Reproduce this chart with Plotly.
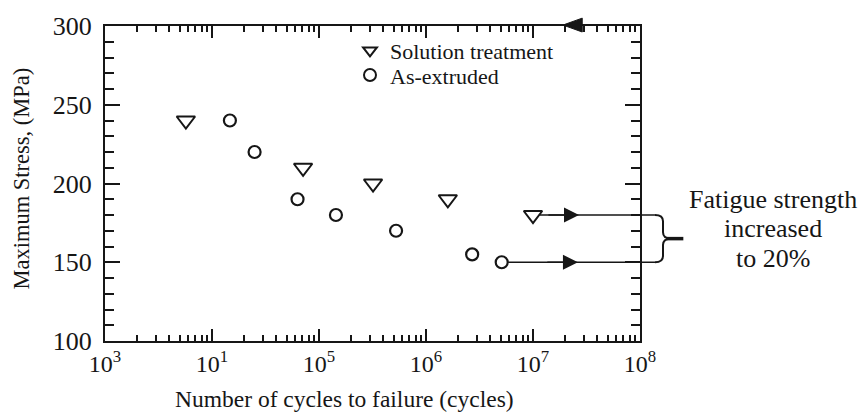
import numpy as np
import plotly.graph_objects as go

# ---- data ----
sol_cycles = [5.7e3, 7.1e4, 3.2e5, 1.6e6, 1.0e7]
sol_stress = [240, 210, 200, 190, 180]
ext_cycles = [1.47e4, 2.5e4, 6.3e4, 1.44e5, 5.25e5, 2.7e6, 5.1e6]
ext_stress = [240, 220, 190, 180, 170, 155, 150]

x_tickvals = [1e3, 1e4, 1e5, 1e6, 1e7, 1e8]
x_ticktext = ["10<sup>3</sup>", "10<sup>1</sup>", "10<sup>5</sup>",
              "10<sup>6</sup>", "10<sup>7</sup>", "10<sup>8</sup>"]
y_tickvals = [100, 150, 200, 250, 300]

note_lines = ["Fatigue strength", "increased", "to 20%"]

FONT = "Liberation Serif, Times New Roman, serif"
INK = "#161616"

X_RANGE = [3, 8]
Y_RANGE = [100, 300]
PLOT_W, PLOT_H = 535, 320


def px(v):
    return (np.log10(v) - X_RANGE[0]) / (X_RANGE[1] - X_RANGE[0])


def py(v):
    return (v - Y_RANGE[0]) / (Y_RANGE[1] - Y_RANGE[0])


fig = go.Figure()
fig.add_trace(go.Scatter(
    x=sol_cycles, y=sol_stress, mode="markers", name="Solution treatment",
    legend="legend",
    marker=dict(symbol="triangle-down-open", size=16, color=INK,
                line=dict(width=2, color=INK)),
))
fig.add_trace(go.Scatter(
    x=ext_cycles, y=ext_stress, mode="markers", name="As-extruded",
    legend="legend2",
    marker=dict(symbol="circle-open", size=12, color=INK,
                line=dict(width=2.2, color=INK)),
))

minor_x = [k * 10 ** e for e in range(3, 8) for k in range(2, 10)]
minor_y = [v for v in range(110, 300, 10) if v % 50]

fig.update_xaxes(
    type="log", range=X_RANGE, tickvals=x_tickvals, ticktext=x_ticktext,
    ticks="inside", ticklen=12, tickwidth=2, tickcolor=INK,
    minor=dict(tickvals=minor_x, ticks="inside", ticklen=6, tickwidth=1.5,
               tickcolor=INK, showgrid=False),
    showline=True, linewidth=2, linecolor=INK, mirror="allticks",
    showgrid=False, zeroline=False,
    tickfont=dict(family=FONT, size=24, color=INK),
)
fig.update_yaxes(
    range=Y_RANGE, tickvals=y_tickvals,
    ticks="inside", ticklen=15, tickwidth=2, tickcolor=INK,
    minor=dict(tickvals=minor_y, ticks="inside", ticklen=9, tickwidth=1.5,
               tickcolor=INK, showgrid=False),
    showline=True, linewidth=2, linecolor=INK, mirror="allticks",
    showgrid=False, zeroline=False,
    tickfont=dict(family=FONT, size=26, color=INK),
    ticklabelstandoff=6,
)

shapes = []
up_y, lo_y = py(sol_stress[-1]), py(ext_stress[-1])
mid_y = (up_y + lo_y) / 2
shapes.append(dict(type="line", xref="paper", yref="paper",
                   x0=px(sol_cycles[-1]) + 0.012, x1=1.028, y0=up_y, y1=up_y,
                   line=dict(color=INK, width=1.5)))
shapes.append(dict(type="line", xref="paper", yref="paper",
                   x0=px(ext_cycles[-1]) + 0.012, x1=1.028, y0=lo_y, y1=lo_y,
                   line=dict(color=INK, width=1.5)))
bx, vx, tx = 1.028, 1.043, 1.058
brace = (f"M {bx},{up_y} Q {vx},{up_y} {vx},{up_y - 0.02} "
         f"L {vx},{mid_y + 0.02} Q {vx},{mid_y} {tx},{mid_y} "
         f"Q {vx},{mid_y} {vx},{mid_y - 0.02} "
         f"L {vx},{lo_y + 0.02} Q {vx},{lo_y} {bx},{lo_y}")
shapes.append(dict(type="path", xref="paper", yref="paper", path=brace,
                   line=dict(color=INK, width=2)))
shapes.append(dict(type="line", xref="paper", yref="paper",
                   x0=1.05, x1=1.081, y0=mid_y, y1=mid_y,
                   line=dict(color=INK, width=3.5)))
shapes.append(dict(type="path", xref="paper", yref="paper",
                   path="M 0.856,1.003 L 0.892,1.025 L 0.892,0.981 Z",
                   fillcolor=INK, line=dict(color=INK, width=1)))
fig.update_layout(shapes=shapes)

annotations = []
for yv, tip in [(sol_stress[-1], 7.43), (ext_stress[-1], 7.42)]:
    annotations.append(dict(x=tip, y=yv, xref="x", yref="y",
                            ax=tip - 0.3, ay=yv, axref="x", ayref="y",
                            showarrow=True, arrowhead=2, arrowsize=2.0,
                            arrowwidth=1.5, arrowcolor=INK, text=""))
for i, line in enumerate(note_lines):
    annotations.append(dict(
        x=1.0 + (773 - 640) / PLOT_W, y=(341 - (197 + 30 * i)) / PLOT_H,
        xref="paper", yref="paper", text=line, showarrow=False,
        font=dict(family=FONT, size=26, color=INK),
        xanchor="center", yanchor="middle"))
annotations.append(dict(
    x=(344 - 105) / PLOT_W, y=(341 - 400) / PLOT_H, xref="paper", yref="paper",
    text="Number of cycles to failure (cycles)", showarrow=False,
    font=dict(family=FONT, size=23.5, color=INK),
    xanchor="center", yanchor="middle"))
annotations.append(dict(
    x=(22 - 105) / PLOT_W, y=(341 - 176) / PLOT_H, xref="paper", yref="paper",
    text="Maximum Stress, (MPa)", showarrow=False, textangle=-90,
    font=dict(family=FONT, size=22.5, color=INK),
    xanchor="center", yanchor="middle"))

legend_common = dict(xanchor="left", yanchor="middle", bgcolor="rgba(0,0,0,0)",
                     font=dict(family=FONT, size=22, color=INK),
                     itemwidth=30, itemsizing="constant")
fig.update_layout(
    annotations=annotations,
    width=868, height=413,
    margin=dict(l=105, r=228, t=21, b=72),
    plot_bgcolor="white", paper_bgcolor="white",
    showlegend=True,
    legend=dict(x=(350 - 105) / PLOT_W, y=(341 - 46) / PLOT_H, **legend_common),
    legend2=dict(x=(350 - 105) / PLOT_W, y=(341 - 71) / PLOT_H, **legend_common),
)

fig.write_html("out.html")
